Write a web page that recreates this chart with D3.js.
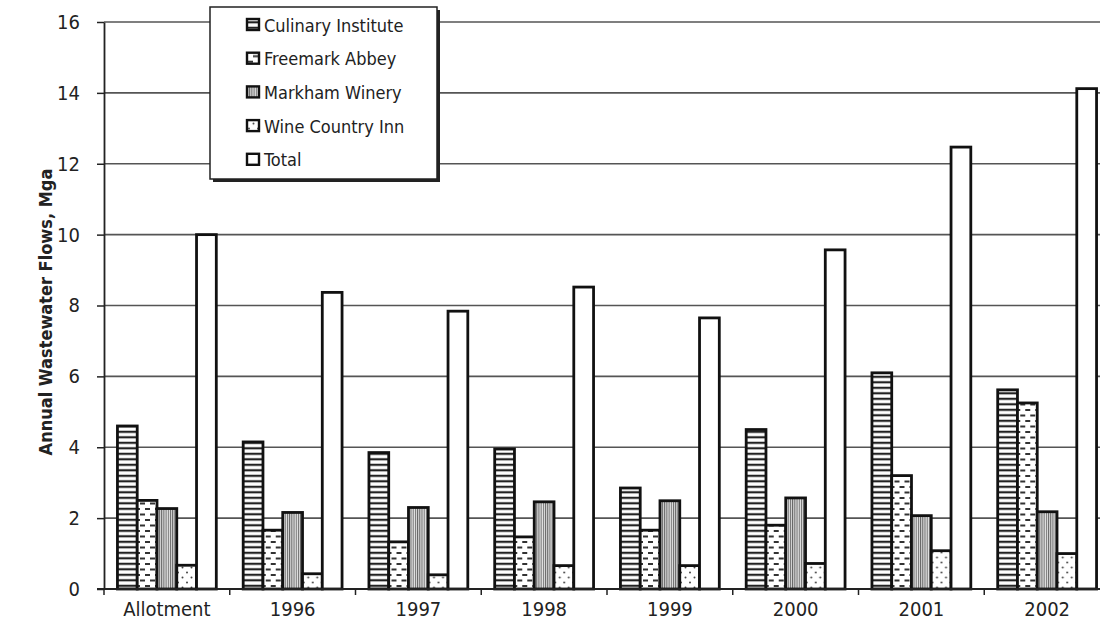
<!DOCTYPE html>
<html>
<head>
<meta charset="utf-8">
<script src="https://cdn.jsdelivr.net/npm/d3@7"></script>
<style>
body { margin: 0; background: #fff; }
svg text { font-family: "DejaVu Sans Condensed", "DejaVu Sans", sans-serif; fill: #222; }
</style>
</head>
<body>
<div id="chart"></div>
<script>
var categories = ["Allotment", "1996", "1997", "1998", "1999", "2000", "2001", "2002"];
var seriesNames = ["Culinary Institute", "Freemark Abbey", "Markham Winery", "Wine Country Inn", "Total"];
var culinary = [4.6, 4.15, 3.85, 3.95, 2.85, 4.5, 6.1, 5.62];
var freemark = [2.5, 1.66, 1.33, 1.47, 1.66, 1.8, 3.2, 5.25];
var markham = [2.27, 2.16, 2.3, 2.46, 2.49, 2.57, 2.07, 2.18];
var wineInn = [0.67, 0.43, 0.4, 0.66, 0.66, 0.72, 1.08, 1.0];
var total = [10.0, 8.37, 7.84, 8.52, 7.65, 9.57, 12.47, 14.12];
var yTicks = [0, 2, 4, 6, 8, 10, 12, 14, 16];

var values = [culinary, freemark, markham, wineInn, total];
var fills = ["url(#pCul)", "url(#pFree)", "url(#pMark)", "url(#pWine)", "#fff"];

const width = 1100, height = 635;
var plotLeft = 104, plotTop = 22, plotBottom = 589, plotRight = 1110;

var svg = d3.select("#chart").append("svg")
  .attr("width", width).attr("height", height);

// hatch patterns that mimic the scanned fills
var defs = svg.append("defs");
var p = defs.append("pattern").attr("id", "pCul").attr("patternUnits", "userSpaceOnUse")
  .attr("width", 6).attr("height", 5.5);
p.append("rect").attr("width", 6).attr("height", 5.5).attr("fill", "#fff");
p.append("rect").attr("y", 1.7).attr("width", 6).attr("height", 2.2).attr("fill", "#222");

p = defs.append("pattern").attr("id", "pFree").attr("patternUnits", "userSpaceOnUse")
  .attr("width", 10).attr("height", 11);
p.append("rect").attr("width", 10).attr("height", 11).attr("fill", "#fff");
p.append("rect").attr("x", 1).attr("y", 2).attr("width", 5).attr("height", 2).attr("fill", "#333");
p.append("rect").attr("x", 6).attr("y", 7.5).attr("width", 4).attr("height", 2).attr("fill", "#333");
p.append("rect").attr("x", 0).attr("y", 7.5).attr("width", 1).attr("height", 2).attr("fill", "#333");

p = defs.append("pattern").attr("id", "pMark").attr("patternUnits", "userSpaceOnUse")
  .attr("width", 2.2).attr("height", 4);
p.append("rect").attr("width", 2.2).attr("height", 4).attr("fill", "#e2e2e2");
p.append("rect").attr("width", 1).attr("height", 4).attr("fill", "#666");

p = defs.append("pattern").attr("id", "pWine").attr("patternUnits", "userSpaceOnUse")
  .attr("width", 9).attr("height", 10);
p.append("rect").attr("width", 9).attr("height", 10).attr("fill", "#fff");
p.append("circle").attr("cx", 2).attr("cy", 2.5).attr("r", 1).attr("fill", "#444");
p.append("circle").attr("cx", 6.5).attr("cy", 7.5).attr("r", 1).attr("fill", "#444");

var x0 = d3.scaleBand().domain(categories).range([plotLeft, plotRight]).padding(0);
var x1 = d3.scaleBand().domain(seriesNames).range([0, x0.bandwidth()])
  .paddingInner(0).paddingOuter(0.68);
var y = d3.scaleLinear().domain([0, 16]).range([plotBottom, plotTop]);

// gridlines
svg.append("g").selectAll("line").data(yTicks.filter(d => d > 0)).enter().append("line")
  .attr("x1", plotLeft).attr("x2", width)
  .attr("y1", d => y(d)).attr("y2", d => y(d))
  .style("stroke", "#555").style("stroke-width", 1.6);

// bars
var groups = svg.append("g").selectAll("g").data(categories).enter().append("g")
  .attr("transform", d => "translate(" + x0(d) + ",0)");
groups.selectAll("rect").data((d, i) => seriesNames.map((s, j) => ({s: s, j: j, v: values[j][i]})))
  .enter().append("rect")
  .attr("x", d => x1(d.s))
  .attr("y", d => y(d.v))
  .attr("width", x1.bandwidth())
  .attr("height", d => plotBottom - y(d.v))
  .attr("fill", d => fills[d.j])
  .style("stroke", "#111").style("stroke-width", 2.8);

// y axis
var yAxis = svg.append("g").attr("transform", "translate(" + plotLeft + ",0)")
  .call(d3.axisLeft(y).tickValues(yTicks).tickSizeInner(7).tickSizeOuter(0).tickPadding(17));
yAxis.select(".domain").style("stroke", "#222").style("stroke-width", 1.8);
yAxis.selectAll(".tick line").style("stroke", "#222").style("stroke-width", 1.5);
yAxis.selectAll("text").style("font-size", "20px").style("font-family", "DejaVu Sans Condensed");

// x axis: baseline with ticks at category boundaries
var xg = svg.append("g");
xg.append("line").attr("x1", plotLeft - 7).attr("x2", width).attr("y1", plotBottom).attr("y2", plotBottom)
  .style("stroke", "#222").style("stroke-width", 1.8);
xg.selectAll("line.tk").data(categories).enter().append("line").attr("class", "tk")
  .attr("x1", d => x0(d)).attr("x2", d => x0(d))
  .attr("y1", plotBottom).attr("y2", plotBottom + 6)
  .style("stroke", "#222").style("stroke-width", 1.5);
xg.selectAll("text").data(categories).enter().append("text")
  .attr("x", d => x0(d) + x0.bandwidth() / 2)
  .attr("y", 616)
  .attr("text-anchor", "middle")
  .style("font-size", "20px")
  .text(d => d);

// y title
svg.append("text")
  .attr("transform", "translate(52,312) rotate(-90)")
  .attr("text-anchor", "middle")
  .style("font-size", "18px").style("font-weight", "bold")
  .text("Annual Wastewater Flows, Mga");

// legend with drop shadow
var lg = svg.append("g");
lg.append("rect").attr("x", 213).attr("y", 10).attr("width", 227).attr("height", 172).attr("fill", "#222");
lg.append("rect").attr("x", 210).attr("y", 7).attr("width", 227).attr("height", 172)
  .attr("fill", "#fff").style("stroke", "#222").style("stroke-width", 1.5);
var items = lg.selectAll("g.item").data(seriesNames).enter().append("g").attr("class", "item")
  .attr("transform", (d, i) => "translate(247," + (25 + i * 33.7) + ")");
items.append("rect").attr("x", 0).attr("y", -6).attr("width", 12).attr("height", 11)
  .attr("fill", (d, i) => fills[i]).style("stroke", "#111").style("stroke-width", 2.4);
items.append("text").attr("x", 17).attr("y", 6.5)
  .style("font-size", "18px")
  .text(d => d);
</script>
</body>
</html>
